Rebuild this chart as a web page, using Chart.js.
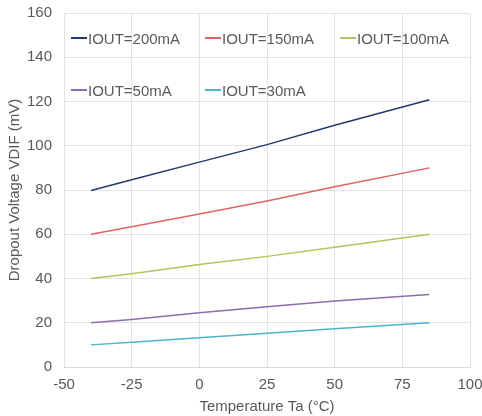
<!DOCTYPE html>
<html>
<head>
<meta charset="utf-8">
<script src="https://cdn.jsdelivr.net/npm/chart.js@4"></script>
<style>
  html, body { margin: 0; padding: 0; background: #fff; }
  #wrap { position: relative; width: 482px; height: 416px; }
  canvas { display: block; }
  .leg { position: absolute; display: flex; align-items: center; font-family: "Liberation Sans", Arial, sans-serif; font-size: 15px; color: #595959; white-space: nowrap; }
  .leg i { display: inline-block; width: 16px; height: 1.5px; margin-right: 1px; }
</style>
</head>
<body>
<div id="wrap"><canvas id="c" width="482" height="416"></canvas></div>
<script>
const temperatures = [-40, -25, 0, 25, 50, 85];
const iout200 = [79.8, 84.6, 92.6, 100.5, 109.3, 120.8];
const iout150 = [60, 63.4, 69.2, 75, 81.5, 90];
const iout100 = [40, 42.2, 46.3, 50, 54.1, 60];
const iout50 = [20, 21.5, 24.5, 27.2, 29.8, 32.8];
const iout30 = [10, 11.2, 13.2, 15.2, 17.3, 20];
const seriesLabels = ["IOUT=200mA", "IOUT=150mA", "IOUT=100mA", "IOUT=50mA", "IOUT=30mA"];
const xTicks = [-50, -25, 0, 25, 50, 75, 100];
const yTicks = [0, 20, 40, 60, 80, 100, 120, 140, 160];

const seriesValues = [iout200, iout150, iout100, iout50, iout30];
const colors = ["#1f3a6e", "#e06464", "#b4c35c", "#8a6fae", "#4fb4cc"];
const legendPos = [[71, 38], [205, 38], [340, 38], [71, 90], [205, 90]];

const datasets = seriesValues.map((vals, i) => ({
  label: seriesLabels[i],
  data: temperatures.map((t, j) => ({ x: t, y: vals[j] })),
  borderColor: colors[i],
  backgroundColor: colors[i],
  borderWidth: 1.5,
  pointRadius: 0,
  fill: false,
  tension: 0
}));

const font = { family: '"Liberation Sans", Arial, sans-serif', size: 15 };
const grey = '#595959';

new Chart(document.getElementById('c'), {
  type: 'line',
  data: { datasets },
  options: {
    responsive: false,
    animation: false,
    layout: { padding: { top: 13, right: 12, left: 0, bottom: 0 } },
    plugins: { legend: { display: false }, tooltip: { enabled: false } },
    scales: {
      x: {
        type: 'linear',
        min: -50, max: 100,
        afterBuildTicks: s => { s.ticks = xTicks.map(v => ({ value: v })); },
        afterFit: s => { s.height = 49; s.paddingLeft = 0; s.paddingRight = 0; },
        grid: { color: '#e4e4e4', drawTicks: false },
        border: { color: '#d9d9d9' },
        ticks: { color: grey, font, padding: 9 },
        title: { display: true, text: 'Temperature Ta (°C)', color: grey, font, padding: { top: 0, bottom: 0 } }
      },
      y: {
        type: 'linear',
        min: 0, max: 160,
        afterBuildTicks: s => { s.ticks = yTicks.map(v => ({ value: v })); },
        afterFit: s => { s.width = 64; s.paddingTop = 0; s.paddingBottom = 0; },
        grid: { color: '#e4e4e4', drawTicks: false },
        border: { display: false },
        ticks: { color: grey, font, padding: 12 },
        title: { display: true, text: 'Dropout Voltage VDIF (mV)', color: grey, font, padding: { top: 6, bottom: 0 } }
      }
    }
  }
});

const wrap = document.getElementById('wrap');
seriesLabels.forEach((lab, i) => {
  const d = document.createElement('div');
  d.className = 'leg';
  d.style.left = legendPos[i][0] + 'px';
  d.style.top = (legendPos[i][1] - 9) + 'px';
  d.style.height = '18px';
  const g = document.createElement('i');
  g.style.background = colors[i];
  d.appendChild(g);
  d.appendChild(document.createTextNode(lab));
  wrap.appendChild(d);
});
</script>
</body>
</html>
